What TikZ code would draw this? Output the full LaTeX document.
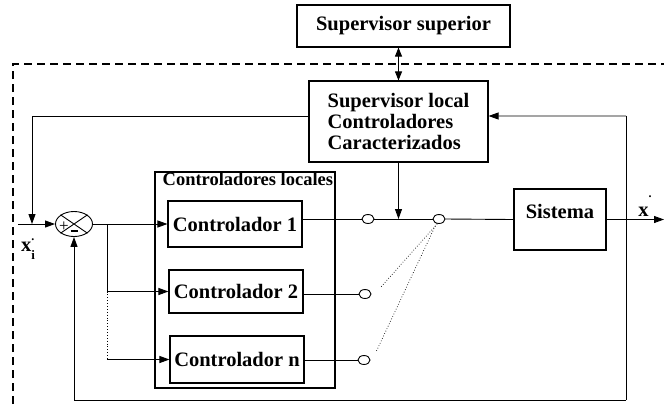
\documentclass[tikz,border=0pt]{standalone}
\usepackage{fontspec}
\setmainfont{Liberation Serif}
\usetikzlibrary{shapes.geometric,arrows.meta,calc}
\begin{document}
\begin{tikzpicture}[x=1bp,y=-1bp,
  box/.style={draw, line width=1.1bp, inner sep=0pt, font=\bfseries\fontsize{20.5bp}{21bp}\selectfont},
  ln/.style={line width=0.9bp},
  arr/.style={ln, -{Triangle[length=10bp,width=7bp]}},
  dblarr/.style={ln, {Triangle[length=9bp,width=7bp]}-{Triangle[length=9bp,width=7bp]}},
  swc/.style={draw, ellipse, minimum width=12bp, minimum height=9bp, inner sep=0pt, line width=0.9bp, fill=white},
  dashedframe/.style={line width=2bp, dash pattern=on 8bp off 5bp},
  lab/.style={inner sep=0pt, font=\bfseries\fontsize{20.5bp}{21bp}\selectfont}
]
\useasboundingbox (0,0) rectangle (664,404);

% coordinates
\coordinate (dA) at (13,404);
\coordinate (dB) at (13,64);
\coordinate (dC) at (664,64);
\coordinate (inp) at (18,224);
\coordinate (lj) at (32,224);
\coordinate (br) at (107,224);
\coordinate (fbt) at (626,116);
\coordinate (fbb) at (626,400);
\coordinate (out) at (664,219.5);
\coordinate (d2) at (380,288);
\coordinate (d3) at (376,352);

% dashed frame
\draw[dashedframe] (dA) -- (dB) -- (dC);

% nodes
\node[box, minimum width=213bp, minimum height=42bp] (sup) at (403.5,26) {Supervisor superior};
\node[box, minimum width=179bp, minimum height=81bp, align=left] (sl) at (398.5,121.5) {Supervisor local\\Controladores\\Caracterizados};
\node[draw, line width=1.1bp, minimum width=180bp, minimum height=216bp, inner sep=0pt] (loc) at (245,280) {};
\node[anchor=north west, inner sep=1bp, font=\bfseries\fontsize{18.5bp}{19bp}\selectfont] (loclab) at ([xshift=7bp]loc.north west) {Controladores locales};
\node[box, minimum width=134bp, minimum height=46bp] (c1) at (235,224) {Controlador 1};
\node[box, minimum width=134bp, minimum height=43bp] (c2) at (236,291.5) {Controlador 2};
\node[box, minimum width=134bp, minimum height=47bp] (cn) at (237,359.5) {Controlador n};
\node[box, minimum width=92bp, minimum height=61bp, text depth=17bp] (sis) at (560,219.5) {Sistema};
\node[draw, ellipse, minimum width=37bp, minimum height=25bp, inner sep=0pt, line width=0.9bp] (sum) at (74,224) {};
\draw[ln] (sum.north west) -- (sum.south east) (sum.north east) -- (sum.south west);
\node[inner sep=0pt, font=\fontsize{17bp}{17bp}\selectfont] (plus) at (64,227) {+};
\node[inner sep=0pt] (minus) at (74,231) {\rule{7bp}{2bp}};

% connectors
\draw[dblarr] (sl.north) -- (sl.north |- sup.south);
\draw[arr] ([yshift=5.5bp]sl.west) -| (lj);
\draw[arr] (inp) -- (sum.west);
\draw[arr] (sum.east) -- (c1.west);
\draw[arr] (br) |- (c2.west);
\draw[ln, dotted] (c2.west -| br) -- (cn.west -| br);
\draw[arr] (cn.west -| br) -- (cn.west);
\draw[ln] (fbt) -- (fbb);
\draw[arr] (fbb) -| (sum.south);
\draw[arr] (fbt) -- ([yshift=5.5bp]sl.east);
\draw[arr] (sl.south) -- (sl.south |- 0,219);
\draw[arr] (sis.east) -- (out);

% switches
\node[swc] (s1) at (368,219) {};
\node[swc] (s2) at (365,294) {};
\node[swc] (sn) at (364,360) {};
\node[swc] (piv) at (439,219) {};
\draw[ln] (c1.east |- s1) -- (s1.west);
\draw[ln] (c2.east |- s2) -- (s2.west);
\draw[ln] (cn.east |- sn) -- (sn.west);
\draw[ln] (s1.east) -- (piv.west);
\draw[ln] (piv.east) -- (sis.west);
\draw[line width=0.7bp, dotted] (piv.250) -- (d2);
\draw[line width=0.7bp, dotted] (piv.240) -- (d3);

% labels
\node[lab] (xi) at (28,249) {x\rlap{\raisebox{0.55em}{\fontsize{12bp}{12bp}\selectfont .}}\raisebox{-0.35em}{\fontsize{13bp}{13bp}\selectfont i}};
\node[lab] (xo) at (645,206) {x\raisebox{0.95em}{\fontsize{12bp}{12bp}\selectfont .}};
\end{tikzpicture}
\end{document}
